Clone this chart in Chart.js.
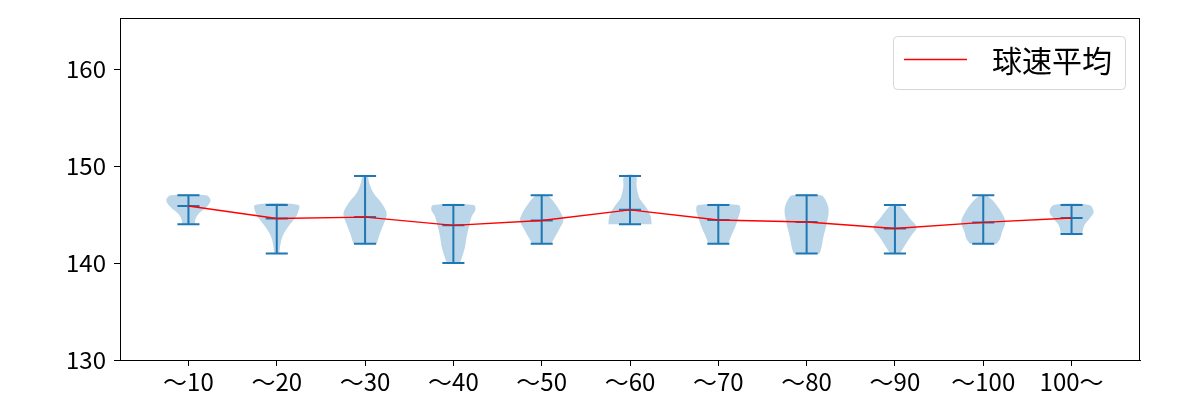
<!DOCTYPE html>
<html>
<head>
<meta charset="utf-8">
<script src="https://cdn.jsdelivr.net/npm/chart.js@4"></script>
<style>
  body { margin: 0; background: #fff; }
  #wrap { width: 1200px; height: 400px; }
</style>
</head>
<body>
<div id="wrap"><canvas id="chart" width="1200" height="400"></canvas></div>
<script>
// Categories (pitch count buckets)
const labels = ['〜10', '〜20', '〜30', '〜40', '〜50', '〜60', '〜70', '〜80', '〜90', '〜100', '100〜'];

// Extremes and mean speed per bucket
const minVals = [144, 141, 142, 140, 142, 144, 142, 141, 141, 142, 143];
const maxVals = [147, 146, 149, 146, 147, 149, 146, 147, 146, 147, 146];
const meanVals = [145.9, 144.6, 144.75, 143.9, 144.4, 145.5, 144.45, 144.25, 143.57, 144.2, 144.65];

// Violin profiles: speed levels and relative density (1 = widest)
const violinY = [
  [144, 144.4, 144.95, 145.5, 145.9, 146.5, 147],
  [141, 141.7, 142.7, 143.6, 144.4, 145.1, 146],
  [142, 143.1, 144.1, 145.1, 146.15, 147.2, 148.2, 149],
  [140, 140.65, 141.7, 142.7, 143.7, 144.8, 145.5, 146],
  [142, 142.7, 143.6, 144.4, 145.1, 146.15, 147],
  [144, 144.8, 145.5, 146.15, 146.8, 147.9, 149],
  [142, 142.9, 143.7, 144.6, 145.5, 146],
  [141, 141.7, 142.7, 144.1, 145.5, 146.5, 147],
  [141, 142.0, 142.9, 143.7, 144.6, 145.5, 146],
  [142, 142.5, 143.2, 144.25, 145.1, 146.15, 147],
  [143, 143.9, 144.6, 145.3, 146]
];
const violinW = [
  [0.30, 0.30, 0.41, 0.67, 0.86, 1.0, 0.80],
  [0.12, 0.15, 0.25, 0.47, 0.74, 0.94, 0.98],
  [0.53, 0.68, 0.85, 0.98, 0.76, 0.39, 0.20, 0.10],
  [0.29, 0.40, 0.53, 0.60, 0.70, 0.83, 1.0, 0.92],
  [0.43, 0.60, 0.82, 0.98, 0.89, 0.60, 0.24],
  [0.98, 0.94, 0.80, 0.60, 0.41, 0.30, 0.26],
  [0.45, 0.60, 0.76, 0.89, 1.0, 0.91],
  [0.59, 0.68, 0.76, 0.91, 1.0, 0.86, 0.64],
  [0.23, 0.50, 0.76, 0.98, 0.68, 0.38, 0.15],
  [0.60, 0.76, 0.85, 1.0, 0.86, 0.55, 0.14],
  [0.48, 0.58, 0.82, 1.0, 0.80]
];

const yTicks = [130, 140, 150, 160];
const legendLabel = '球速平均';

const blue = '#1f77b4';
const halfWidth = 0.25;   // max violin half width in x units
const capHalf = 0.125;
const fontFamily = '"Noto Sans CJK JP", "Noto Sans", sans-serif';

// violin outline: right side going up, left side coming down
const violinSets = labels.map((lab, i) => {
  const pos = i + 1;
  const ys = violinY[i];
  const ws = violinW[i];
  const right = ys.map((y, k) => ({ x: pos + ws[k] * halfWidth, y: y }));
  const left = ys.map((y, k) => ({ x: pos - ws[k] * halfWidth, y: y })).reverse();
  return {
    label: lab,
    data: right.concat(left),
    showLine: true,
    fill: 'shape',
    backgroundColor: 'rgba(31, 119, 180, 0.3)',
    borderWidth: 0,
    borderColor: 'rgba(0,0,0,0)',
    pointRadius: 0,
    tension: 0.35,
    order: 3
  };
});

// min/max/mean caps + vertical bars
const whiskerData = [];
labels.forEach((lab, i) => {
  const pos = i + 1;
  whiskerData.push(
    { x: pos, y: minVals[i] }, { x: pos, y: maxVals[i] }, { x: pos, y: null },
    { x: pos - capHalf, y: minVals[i] }, { x: pos + capHalf, y: minVals[i] }, { x: pos, y: null },
    { x: pos - capHalf, y: maxVals[i] }, { x: pos + capHalf, y: maxVals[i] }, { x: pos, y: null },
    { x: pos - capHalf, y: meanVals[i] }, { x: pos + capHalf, y: meanVals[i] }, { x: pos, y: null }
  );
});

const meanData = meanVals.map((v, i) => ({ x: i + 1, y: v }));

// plot frame (all four spines)
const framePlugin = {
  id: 'frame',
  afterDatasetsDraw(chart) {
    const { ctx, chartArea: a } = chart;
    ctx.save();
    ctx.strokeStyle = '#000';
    ctx.lineWidth = 1;
    ctx.strokeRect(a.left + 0.5, a.top + 0.5, a.right - a.left - 1, a.bottom - a.top);
    ctx.restore();
  }
};

// matplotlib style legend inside the axes
const legendPlugin = {
  id: 'boxLegend',
  afterDraw(chart) {
    const { ctx, chartArea: a } = chart;
    ctx.save();
    ctx.font = '30px ' + fontFamily;
    const tw = ctx.measureText(legendLabel).width;
    const w = 11 + 63 + 25 + tw + 13;
    const h = 53;
    const x = a.right - 15 - w;
    const y = a.top + 18;
    ctx.beginPath();
    ctx.roundRect(x + 0.5, y + 0.5, w, h, 4);
    ctx.fillStyle = 'rgba(255,255,255,0.8)';
    ctx.fill();
    ctx.strokeStyle = '#d6d6d6';
    ctx.lineWidth = 1;
    ctx.stroke();
    ctx.beginPath();
    ctx.moveTo(x + 11, y + 23.5);
    ctx.lineTo(x + 74, y + 23.5);
    ctx.strokeStyle = 'red';
    ctx.lineWidth = 1.4;
    ctx.stroke();
    ctx.fillStyle = '#000';
    ctx.textBaseline = 'middle';
    ctx.fillText(legendLabel, x + 99, y + 25);
    ctx.restore();
  }
};

new Chart(document.getElementById('chart'), {
  type: 'scatter',
  data: {
    datasets: [
      {
        label: legendLabel,
        data: meanData,
        showLine: true,
        borderColor: 'red',
        borderWidth: 1.4,
        pointRadius: 0,
        fill: false,
        order: 1
      },
      {
        label: 'extrema',
        data: whiskerData,
        showLine: true,
        spanGaps: false,
        borderColor: blue,
        borderWidth: 2,
        pointRadius: 0,
        fill: false,
        order: 2
      },
      ...violinSets
    ]
  },
  options: {
    responsive: false,
    devicePixelRatio: 1,
    animation: false,
    layout: { padding: { top: 18, right: 60, left: 0, bottom: 0 } },
    plugins: {
      legend: { display: false },
      tooltip: { enabled: false }
    },
    scales: {
      x: {
        type: 'linear',
        min: 0.225,
        max: 11.775,
        afterBuildTicks: (s) => { s.ticks = labels.map((l, i) => ({ value: i + 1 })); },
        afterFit: (s) => { s.height = 40; s.paddingLeft = 0; s.paddingRight = 0; },
        ticks: {
          autoSkip: false,
          maxRotation: 0,
          padding: 1,
          color: '#000',
          font: { family: fontFamily, size: 24 },
          callback: (v) => labels[v - 1]
        },
        grid: { drawOnChartArea: false, tickLength: 6, color: '#000' },
        border: { color: '#000', width: 1 }
      },
      y: {
        min: 130,
        max: 165.3,
        afterBuildTicks: (s) => { s.ticks = yTicks.map(v => ({ value: v })); },
        afterFit: (s) => { s.width = 120; s.paddingTop = 0; s.paddingBottom = 0; },
        ticks: {
          padding: 8,
          color: '#000',
          font: { family: fontFamily, size: 24 }
        },
        grid: { drawOnChartArea: false, tickLength: 6, color: '#000' },
        border: { color: '#000', width: 1 }
      }
    }
  },
  plugins: [framePlugin, legendPlugin]
});
</script>
</body>
</html>
